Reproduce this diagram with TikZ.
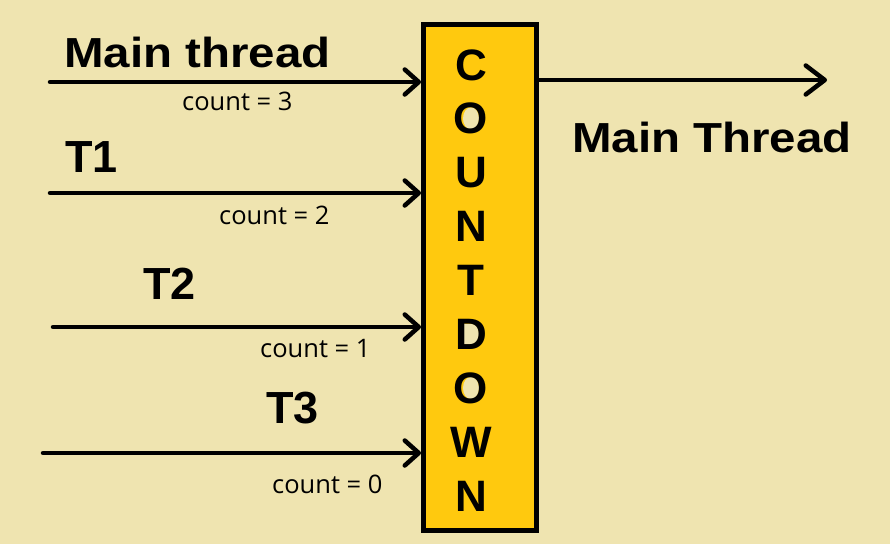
\documentclass[tikz,border=0pt]{standalone}
\usepackage{fontspec}
\setmainfont{Liberation Sans}
\newfontfamily\cntfont{Open Sans}
\usetikzlibrary{arrows.meta}
\definecolor{bg}{RGB}{239,228,176}
\definecolor{gold}{RGB}{255,201,14}
\begin{document}
\begin{tikzpicture}[x=1pt,y=-1pt,
  lbl/.style={anchor=base west, inner sep=0, font=\bfseries\fontsize{45}{50}\selectfont},
  big/.style={anchor=base west, inner sep=0, font=\bfseries\fontsize{42}{50}\selectfont},
  cnt/.style={anchor=base west, inner sep=0, font=\cntfont\fontsize{25.5}{30}\selectfont},
  letter/.style={anchor=base, inner sep=0, font=\bfseries\fontsize{44}{50}\selectfont},
  arr/.style={line width=4.5pt, line cap=round, -{Straight Barb[length=14pt,width=25pt,line width=4.5pt,round]}},
  arrbig/.style={line width=4.5pt, line cap=round, -{Straight Barb[length=19pt,width=29pt,line width=4.5pt,round]}},
  hole/.style={fill=bg}
]
\fill[bg] (0,0) rectangle (890,544);
\useasboundingbox (0,0) rectangle (890,544);
\node[draw, line width=5pt, fill=gold, minimum width=113pt, minimum height=506pt, inner sep=0] (box) at (480,277.5) {};
% counters of O, D, O
\fill[hole] (471,133.9-15.5) ellipse [x radius=8, y radius=11];
\fill[hole] (471,403.5-15.5) ellipse [x radius=8, y radius=11];
\fill[hole] (463,349.5-25.5) -- (472,349.5-25.5) arc[start angle=-90, end angle=90, x radius=7, y radius=10] -- (463,349.5-5.5) -- cycle;
\foreach \l [count=\i from 0] in {C,O,U,N,T,D,O,W,N}
  \node[letter] (L\i) at (471, 80+53.9*\i) {\l};
% inputs
\coordinate (s0) at (50,82);
\coordinate (s1) at (50,193);
\coordinate (s2) at (53,327);
\coordinate (s3) at (43,453);
\draw[arr] (s0) -- (s0 -| box.west);
\draw[arr] (s1) -- (s1 -| box.west);
\draw[arr] (s2) -- (s2 -| box.west);
\draw[arr] (s3) -- (s3 -| box.west);
% output
\coordinate (e) at (827,80);
\draw[arrbig] (box.east |- e) -- (e);
% labels
\node[big] (mt) at (64,67) {\scalebox{1.13}[1]{Main thread}};
\node[big] (mT) at (572,152) {\scalebox{1.13}[1]{Main Thread}};
\node[lbl] (t1) at (65,172) {T1};
\node[lbl] (t2) at (143,299) {T2};
\node[lbl] (t3) at (266,423) {T3};
\node[cnt] (c3) at (182,110) {count = 3};
\node[cnt] (c2) at (219,224) {count = 2};
\node[cnt] (c1) at (260,357) {count = 1};
\node[cnt] (c0) at (272,493) {count = 0};
\end{tikzpicture}
\end{document}
